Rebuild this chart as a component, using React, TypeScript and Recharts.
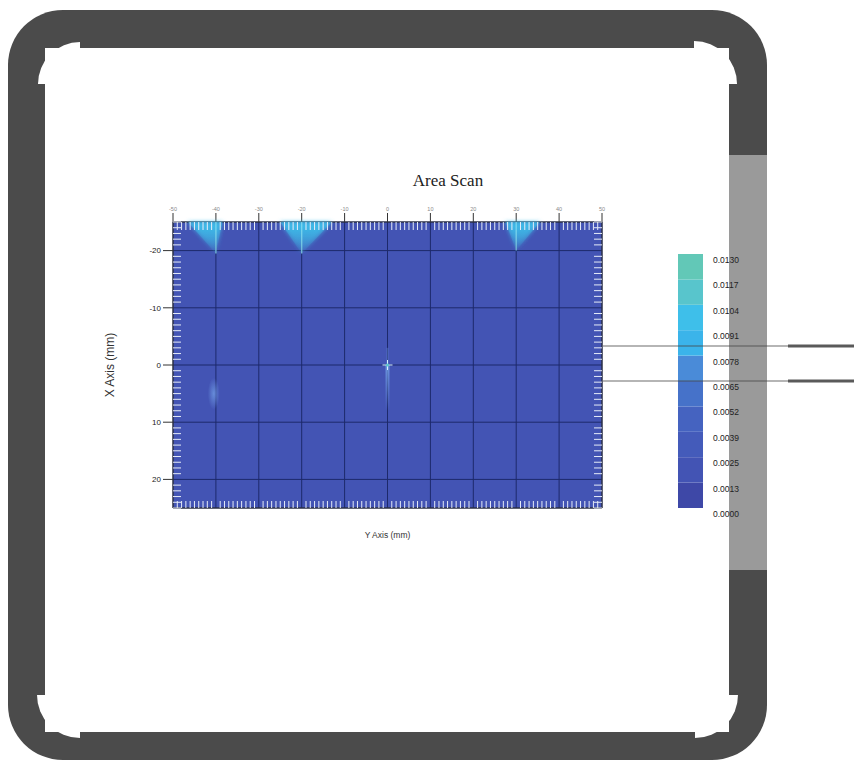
import React from 'react';
import { ScatterChart, Scatter, XAxis, YAxis, CartesianGrid, BarChart, Bar } from 'recharts';

// axis ticks (mm)
const X_TICKS = [-50, -40, -30, -20, -10, 0, 10, 20, 30, 40, 50];
const Y_TICKS = [-20, -10, 0, 10, 20];
const MINOR_X = Array.from({ length: 101 }, (_, i) => i - 50).filter((v) => v % 10 !== 0);
const MINOR_Y = Array.from({ length: 51 }, (_, i) => i - 25).filter((v) => v % 10 !== 0);

// colour scale
const SCALE_TICKS = [0, 0.0013, 0.0026, 0.0039, 0.0052, 0.0065, 0.0078, 0.0091, 0.0104, 0.0117, 0.013];
const SCALE_LABELS = ['0.0000', '0.0013', '0.0025', '0.0039', '0.0052', '0.0065', '0.0078', '0.0091', '0.0104', '0.0117', '0.0130'];
const SCALE_COLORS = ['#3e48a7', '#4354b4', '#445bba', '#4563c0', '#4672c9', '#4a8bd8', '#3bb4ea', '#3ebfea', '#58c5cc', '#62c8b7'];

// general level over the scanned area
const BACKGROUND_LEVEL = 0.0022;

// hot spots running down from the top edge
const EDGE_X = [-40, -20, 30];
const EDGE_Y = [-25, -25, -25];
const EDGE_LEVEL = [0.0098, 0.0101, 0.0094];
const EDGE_LEFT = [6.5, 5, 2.5];
const EDGE_RIGHT = [1.5, 7, 5.5];
const EDGE_DEPTH = [5.5, 5.5, 5];

// spots inside the area
const SPOT_X = [0, -40.5];
const SPOT_Y = [0, 5];
const SPOT_LEVEL = [0.0104, 0.0068];

const PLOT_W = 429;
const PLOT_H = 286;
const UX = PLOT_W / 100;
const UY = PLOT_H / 50;

const colorFor = (v: number) => {
  for (let k = 0; k < SCALE_COLORS.length; k++) {
    if (v < SCALE_TICKS[k + 1]) return SCALE_COLORS[k];
  }
  return SCALE_COLORS[SCALE_COLORS.length - 1];
};

const edgeData = EDGE_X.map((x, i) => ({
  x,
  y: EDGE_Y[i],
  level: EDGE_LEVEL[i],
  left: EDGE_LEFT[i],
  right: EDGE_RIGHT[i],
  depth: EDGE_DEPTH[i],
  i,
}));

const spotData = SPOT_X.map((x, i) => ({ x, y: SPOT_Y[i], level: SPOT_LEVEL[i], i }));

// inner minor tick marks along the four edges of the scan
const minorData = [
  ...MINOR_X.map((x) => ({ x, y: -25, edge: 'top' })),
  ...MINOR_X.map((x) => ({ x, y: 25, edge: 'bottom' })),
  ...MINOR_Y.map((y) => ({ x: -50, y, edge: 'left' })),
  ...MINOR_Y.map((y) => ({ x: 50, y, edge: 'right' })),
];

const scaleRow: Record<string, number | string> = { name: 'scale' };
SCALE_COLORS.forEach((_, k) => {
  scaleRow[`b${k}`] = SCALE_TICKS[k + 1] - SCALE_TICKS[k];
});

const GRID = '#1d296b';
const MINOR = '#e6ecf8';

const EdgeShape = (props: any) => {
  const { cx, cy, payload } = props;
  const id = `edge-${payload.i}`;
  const c = colorFor(payload.level);
  const l = cx - payload.left * UX;
  const r = cx + payload.right * UX;
  const b = cy + payload.depth * UY;
  return (
    <g>
      <defs>
        <linearGradient id={id} x1="0" y1="0" x2="0" y2="1">
          <stop offset="0" stopColor={c} stopOpacity={1} />
          <stop offset="0.5" stopColor={c} stopOpacity={0.6} />
          <stop offset="1" stopColor={c} stopOpacity={0.1} />
        </linearGradient>
        <filter id={`${id}-blur`} x="-50%" y="-50%" width="200%" height="200%">
          <feGaussianBlur stdDeviation={2.2} />
        </filter>
      </defs>
      <polygon points={`${l},${cy} ${r},${cy} ${cx},${b}`} fill={`url(#${id})`} filter={`url(#${id}-blur)`} />
      <polygon points={`${l},${cy} ${r},${cy} ${cx},${b}`} fill={`url(#${id})`} opacity={0.5} />
      <line x1={cx} y1={cy} x2={cx} y2={b} stroke="#8fe4f6" strokeWidth={1.4} opacity={0.7} />
    </g>
  );
};

const SpotShape = (props: any) => {
  const { cx, cy, payload } = props;
  const id = `spot-${payload.i}`;
  const c = colorFor(payload.level);
  if (payload.i === 0) {
    return (
      <g>
        <defs>
          <linearGradient id={id} x1="0" y1="0" x2="0" y2="1">
            <stop offset="0" stopColor="#6f9be2" stopOpacity={0.9} />
            <stop offset="1" stopColor="#6f9be2" stopOpacity={0} />
          </linearGradient>
        </defs>
        <rect x={cx - 2} y={cy} width={4} height={8 * UY} fill={`url(#${id})`} />
        <rect x={cx - 1} y={cy - 3 * UY} width={2} height={3 * UY} fill="#6f9be2" opacity={0.35} />
        <line x1={cx - 5} y1={cy} x2={cx + 5} y2={cy} stroke="#d8f0ff" strokeWidth={1} />
        <line x1={cx} y1={cy - 5} x2={cx} y2={cy + 5} stroke="#d8f0ff" strokeWidth={1} />
        <circle cx={cx} cy={cy} r={1.6} fill={c} />
      </g>
    );
  }
  return (
    <g>
      <defs>
        <radialGradient id={id}>
          <stop offset="0" stopColor="#6a92dd" stopOpacity={0.9} />
          <stop offset="1" stopColor="#6a92dd" stopOpacity={0} />
        </radialGradient>
      </defs>
      <ellipse cx={cx} cy={cy} rx={6} ry={16} fill={`url(#${id})`} />
    </g>
  );
};

const MinorTick = (props: any) => {
  const { cx, cy, payload } = props;
  const len = { top: [0, 8], bottom: [0, -7], left: [8, 0], right: [-8, 0] }[payload.edge as string] as number[];
  return <line x1={cx} y1={cy} x2={cx + len[0]} y2={cy + len[1]} stroke={MINOR} strokeWidth={1} />;
};

const ScaleTick = (props: any) => {
  const { x, y, payload } = props;
  const k = SCALE_TICKS.findIndex((t) => Math.abs(t - payload.value) < 1e-7);
  return (
    <text x={x} y={y + 6} dy="0.35em" fontSize={8.5} fill="#222" textAnchor="start">
      {SCALE_LABELS[k]}
    </text>
  );
};

// quarter-disc that rounds the inner corner of the frame outward
const corner = (cx: number, cy: number, r: number, sx: number, sy: number) =>
  `M${cx},${cy} L${cx + sx * r},${cy} A${r},${r} 0 0 ${sx * sy > 0 ? 1 : 0} ${cx},${cy + sy * r} Z`;

const Frame = () => (
  <svg width={854} height={761} style={{ position: 'absolute', left: 0, top: 0 }}>
    <rect x={8} y={10} width={759} height={750} rx={55} fill="#4b4b4b" />
    <rect x={45} y={48} width={684} height={684} fill="#fff" />
    <path d={corner(80, 84, 42, -1, -1)} fill="#fff" />
    <path d={corner(694, 84, 43, 1, -1)} fill="#fff" />
    <path d={corner(80, 695, 43, -1, 1)} fill="#fff" />
    <path d={corner(695, 695, 43, 1, 1)} fill="#fff" />
    <rect x={729} y={155} width={38} height={415} fill="#9a9a9a" />
  </svg>
);

const Leaders = () => (
  <svg width={854} height={761} style={{ position: 'absolute', left: 0, top: 0, pointerEvents: 'none' }}>
    {[346, 381].map((y) => (
      <g key={y}>
        <line x1={603} y1={y} x2={788} y2={y} stroke="rgba(70,70,70,0.4)" strokeWidth={2} />
        <line x1={788} y1={y} x2={854} y2={y} stroke="#5a5a5a" strokeWidth={3} />
      </g>
    ))}
  </svg>
);

export default function App() {
  return (
    <div
      style={{
        position: 'absolute',
        left: 0,
        top: 0,
        width: 854,
        height: 761,
        background: '#fff',
        overflow: 'hidden',
        fontFamily: '"Liberation Sans", Arial, sans-serif',
      }}
    >
      <Frame />

      <div style={{ position: 'absolute', left: 0, top: 0 }}>
        <ScatterChart width={854} height={761} margin={{ top: 207, right: 222, bottom: 199, left: 47 }}>
          <CartesianGrid xAxisId="main" yAxisId="main" fill={colorFor(BACKGROUND_LEVEL)} fillOpacity={1} stroke={GRID} strokeWidth={1} />
          <XAxis
            xAxisId="main"
            orientation="top"
            type="number"
            dataKey="x"
            domain={[-50, 50]}
            ticks={X_TICKS}
            interval={0}
            height={15}
            tickSize={9}
            tickMargin={2}
            stroke="#333"
            tick={{ fontSize: 5.5, fill: '#888' }}
          />
          <XAxis
            xAxisId="bottom"
            orientation="bottom"
            type="number"
            domain={[-50, 50]}
            ticks={X_TICKS}
            interval={0}
            height={54}
            tickSize={7}
            tickMargin={2}
            stroke="#333"
            tick={{ fontSize: 5.5, fill: '#888' }}
            label={{ value: 'Y Axis (mm)', position: 'center', fontSize: 8.5, fill: '#333' }}
          />
          <YAxis
            yAxisId="main"
            orientation="left"
            type="number"
            dataKey="y"
            domain={[-25, 25]}
            reversed
            ticks={Y_TICKS}
            interval={0}
            width={126}
            tickSize={10}
            tickMargin={2}
            stroke="#333"
            tick={{ fontSize: 8, fill: '#222' }}
            label={{ value: 'X Axis (mm)', angle: -90, position: 'center', fontSize: 12, fill: '#333' }}
          />
          <YAxis
            yAxisId="right"
            orientation="right"
            type="number"
            domain={[-25, 25]}
            reversed
            ticks={Y_TICKS}
            interval={0}
            width={30}
            tickSize={10}
            tickMargin={2}
            stroke="#333"
            tick={{ fontSize: 8, fill: '#222' }}
          />
          <Scatter xAxisId="main" yAxisId="main" data={spotData} shape={SpotShape} isAnimationActive={false} />
          <Scatter xAxisId="main" yAxisId="main" data={edgeData} shape={EdgeShape} isAnimationActive={false} />
          <Scatter xAxisId="main" yAxisId="main" data={minorData} shape={MinorTick} isAnimationActive={false} />
        </ScatterChart>
      </div>

      <div style={{ position: 'absolute', left: 0, top: 0 }}>
        <BarChart width={854} height={761} data={[scaleRow]} barCategoryGap={0} margin={{ top: 254, right: 91, bottom: 253, left: 678 }}>
          <XAxis dataKey="name" hide />
          <YAxis
            orientation="right"
            type="number"
            domain={[0, 0.013]}
            ticks={SCALE_TICKS}
            interval={0}
            width={60}
            axisLine={false}
            tickLine={false}
            tickMargin={4}
            tick={ScaleTick}
          />
          {SCALE_COLORS.map((c, k) => (
            <Bar key={k} dataKey={`b${k}`} stackId="scale" fill={c} isAnimationActive={false} />
          ))}
        </BarChart>
      </div>

      <Leaders />

      <div
        style={{
          position: 'absolute',
          left: 348,
          top: 169,
          width: 200,
          textAlign: 'center',
          fontFamily: '"Liberation Serif", "Times New Roman", serif',
          fontSize: 17,
          color: '#222',
          lineHeight: '24px',
        }}
      >
        Area Scan
      </div>
    </div>
  );
}
